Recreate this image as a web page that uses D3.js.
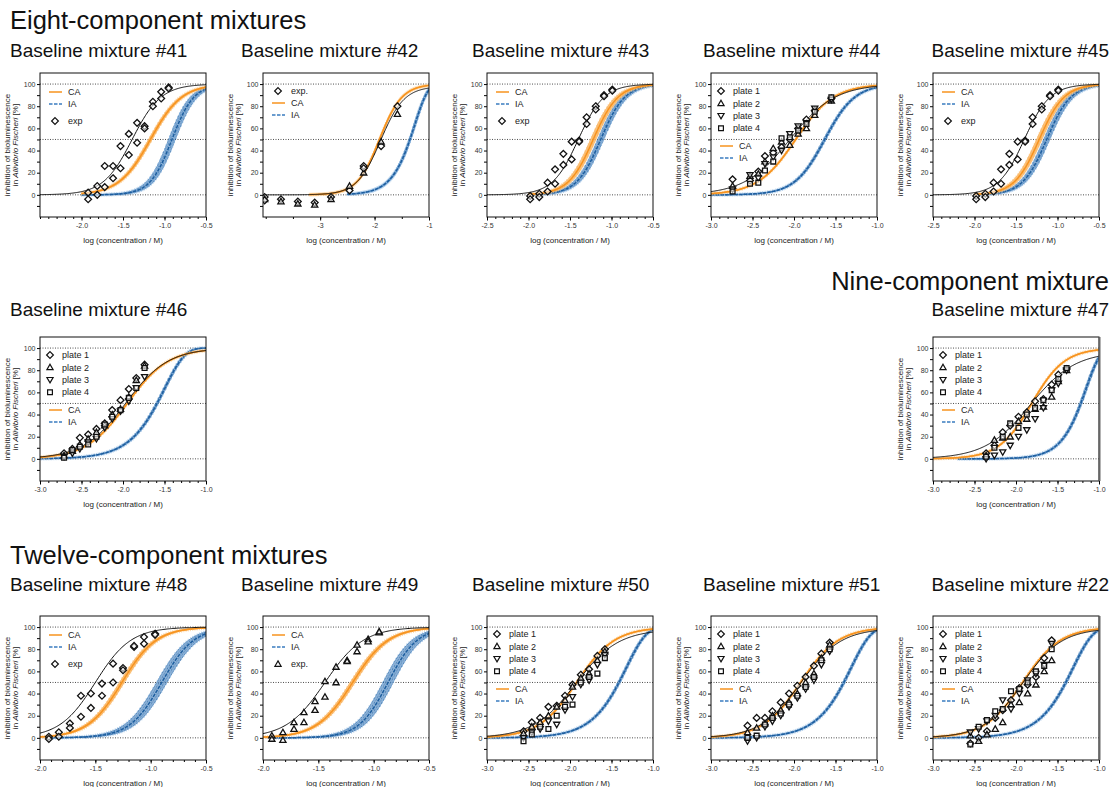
<!DOCTYPE html>
<html>
<head>
<meta charset="utf-8">
<script src="https://cdn.jsdelivr.net/npm/d3@7"></script>
<style>
    body { margin: 0; background: #fff; }
    svg { display: block; font-family: "Liberation Sans", Arial, sans-serif; }
</style>
</head>
<body>
<script>
// ---- data ----
const SECTION_TITLES = ["Eight-component mixtures", "Nine-component mixture", "Twelve-component mixtures"];
const PANEL_IDS = ["#41", "#42", "#43", "#44", "#45", "#46", "#47", "#48", "#49", "#50", "#51", "#22"];

const X_DOMAINS = [
    [-2.5, -0.5], [-4.05, -1], [-2.5, -0.5], [-3, -1], [-2.5, -0.5],
    [-3, -1], [-3, -1],
    [-2, -0.5], [-2, -0.5], [-3, -1], [-3, -1], [-3, -1]
];
const X_TICK_LABELS = [
    [-2, -1.5, -1, -0.5], [-3, -2, -1], [-2.5, -2, -1.5, -1, -0.5], [-3, -2.5, -2, -1.5, -1], [-2.5, -2, -1.5, -1, -0.5],
    [-3, -2.5, -2, -1.5, -1], [-3, -2.5, -2, -1.5, -1],
    [-2, -1.5, -1, -0.5], [-2, -1.5, -1, -0.5], [-3, -2.5, -2, -1.5, -1], [-3, -2.5, -2, -1.5, -1], [-3, -2.5, -2, -1.5, -1]
];
const X_DECIMALS = [1, 0, 1, 1, 1, 1, 1, 1, 1, 1, 1, 1];
const Y_TICK_LABELS = [0, 20, 40, 60, 80, 100];
const Y_REF_LINES = [0, 50, 100];

// predicted curves: [log EC50, slope, first log conc., band half-width, "H" = Hill / "W" = Weibull]
const CA_FITS = [
    [-1.17, 2.3, -2.0, 0.02, "H"], [-1.91, 2.1, -3.2, 0.01, "H"], [-1.22, 2.9, -2.0, 0.03, "H"], [-1.98, 1.9, -3.0, 0.008, "H"], [-1.22, 2.9, -2.0, 0.03, "H"],
    [-1.95, 1.75, -3.0, 0.008, "H"], [-1.81, 2.2, -3.0, 0.008, "H"],
    [-1.26, 2.8, -2.0, 0.02, "H"], [-1.19, 2.7, -2.0, 0.02, "H"], [-1.92, 1.9, -3.0, 0.008, "H"], [-1.92, 1.9, -3.0, 0.008, "H"], [-1.92, 1.9, -3.0, 0.008, "H"]
];
const IA_FITS = [
    [-0.91, 3.3, -2.0, 0.04, "H"], [-1.35, 1.8, -2.5, 0.02, "W"], [-1.13, 3.0, -2.0, 0.035, "H"], [-1.63, 2.4, -3.0, 0.015, "H"], [-1.13, 3.0, -2.0, 0.035, "H"],
    [-1.59, 1.77, -3.0, 0.015, "W"], [-1.22, 2.5, -2.7, 0.015, "W"],
    [-0.90, 3.0, -1.9, 0.045, "H"], [-0.87, 3.3, -1.9, 0.045, "H"], [-1.41, 1.8, -3.0, 0.015, "W"], [-1.40, 1.8, -3.0, 0.015, "W"], [-1.40, 1.8, -3.0, 0.015, "W"]
];
// fitted experimental curves: [log EC50, Hill slope, top]
const EXP_FITS = [
    [-1.39, 2.5, 100], [-1.89, 2.0, 98], [-1.40, 2.8, 100], [-2.05, 1.6, 100], [-1.40, 2.8, 100],
    [-1.97, 1.7, 100], [-1.83, 1.6, 97],
    [-1.50, 2.7, 100], [-1.44, 2.5, 100], [-1.93, 1.7, 98], [-1.92, 1.8, 99], [-1.92, 1.85, 99]
];

// single-series measurements [log conc, inhibition %, marker]
const EXP_41 = [[-1.92, 2], [-1.92, -4], [-1.81, 8], [-1.81, 0], [-1.72, 26], [-1.72, 7], [-1.62, 26], [-1.62, 15],
    [-1.53, 44], [-1.53, 24], [-1.43, 55], [-1.43, 36], [-1.33, 65], [-1.33, 47], [-1.24, 62], [-1.24, 60],
    [-1.14, 84], [-1.14, 80], [-1.04, 93], [-1.04, 87], [-0.95, 97], [-0.95, 96]];
const EXP_42 = [[-4.02, -2, 0], [-4.02, -4, 1], [-4.02, -5, 0], [-3.72, -4, 0], [-3.72, -6, 1], [-3.41, -6, 0], [-3.41, -8, 1],
    [-3.1, -7, 0], [-3.1, -9, 1], [-2.8, -2, 0], [-2.8, -4, 1], [-2.46, 4, 0], [-2.46, 8, 1], [-2.2, 26, 0], [-2.2, 20, 1],
    [-2.2, 24, 0], [-1.88, 44, 0], [-1.88, 48, 1], [-1.58, 80, 0], [-1.58, 73, 1]];
const EXP_43 = [[-1.98, -1], [-1.98, -4], [-1.87, 1], [-1.87, -2], [-1.77, 11], [-1.77, 3], [-1.68, 23], [-1.68, 10],
    [-1.58, 37], [-1.58, 27], [-1.48, 48], [-1.48, 32], [-1.39, 49], [-1.39, 48], [-1.30, 70], [-1.30, 64],
    [-1.19, 80], [-1.19, 77], [-1.09, 90], [-1.09, 89], [-0.99, 95], [-0.99, 94]];
const EXP_45 = [[-1.98, -1], [-1.98, -4], [-1.87, 1], [-1.87, -2], [-1.77, 11], [-1.77, 3], [-1.68, 23], [-1.68, 10],
    [-1.58, 37], [-1.58, 27], [-1.48, 48], [-1.48, 32], [-1.39, 49], [-1.39, 48], [-1.30, 70], [-1.30, 64],
    [-1.19, 80], [-1.19, 77], [-1.09, 90], [-1.09, 89], [-0.99, 95], [-0.99, 94]];
const EXP_48 = [[-1.92, 1], [-1.92, -1], [-1.83, 5], [-1.83, 1], [-1.73, 13], [-1.73, 9], [-1.63, 38], [-1.63, 19],
    [-1.54, 40], [-1.54, 27], [-1.44, 49], [-1.44, 38], [-1.34, 67], [-1.34, 50], [-1.25, 63], [-1.25, 61],
    [-1.15, 82], [-1.15, 83], [-1.06, 91], [-1.06, 85], [-0.96, 94], [-0.96, 93]];
const EXP_49 = [[-1.92, 2, 1], [-1.92, -1, 1], [-1.82, 5, 1], [-1.82, -2, 1], [-1.72, 14, 1], [-1.72, 8, 1], [-1.63, 23, 1], [-1.63, 14, 1],
    [-1.53, 33, 1], [-1.53, 25, 1], [-1.44, 51, 1], [-1.44, 37, 1], [-1.34, 64, 1], [-1.34, 50, 1], [-1.24, 70, 1], [-1.24, 69, 1],
    [-1.15, 84, 1], [-1.15, 78, 1], [-1.05, 89, 1], [-1.05, 87, 1], [-0.95, 95, 1], [-0.95, 96, 1]];

// plate measurements: log conc per column, inhibition % for plates 1-4
const PLATE_X_44 = [-2.74, -2.53, -2.43, -2.35, -2.25, -2.15, -2.05, -1.95, -1.85, -1.75, -1.55];
const PLATE_Y_44 = [[14, 8, 5, 3], [13, 17, 18, 10], [21, 19, 15, 11], [35, 30, 28, 22], [38, 42, 34, 30], [43, 48, 40, 51],
    [50, 45, 55, 52], [60, 55, 62, 58], [68, 60, 65, 64], [76, 72, 78, 75], [87, 85, 86, 88]];
const PLATE_X_46 = [-2.71, -2.61, -2.52, -2.42, -2.32, -2.22, -2.13, -2.03, -1.93, -1.84, -1.74];
const PLATE_Y_46 = [[5, 3, 2, 1], [9, 7, 5, 8], [19, 13, 9, 11], [22, 18, 15, 13], [27, 24, 18, 20], [32, 30, 28, 31],
    [44, 40, 36, 38], [53, 45, 43, 44], [63, 56, 52, 55], [73, 71, 64, 64], [85, 84, 74, 82]];
const PLATE_X_47 = [-2.36, -2.26, -2.16, -2.07, -1.97, -1.87, -1.77, -1.67, -1.57, -1.49, -1.39];
const PLATE_Y_47 = [[5, 3, 0, 2], [12, 17, 3, 10], [24, 19, 6, 20], [30, 20, 12, 32], [38, 34, 20, 28], [42, 36, 26, 40],
    [52, 45, 36, 46], [54, 47, 46, 53], [67, 56, 62, 62], [76, 70, 68, 72], [81, 80, 80, 82]];
const PLATE_X_50 = [-2.56, -2.46, -2.36, -2.26, -2.16, -2.06, -1.97, -1.87, -1.77, -1.67, -1.58];
const PLATE_Y_50 = [[6, 4, 0, -3], [14, 10, 5, 3], [18, 14, 8, 10], [28, 20, 15, 8], [29, 28, 12, 20], [38, 34, 25, 28],
    [48, 46, 37, 30], [57, 54, 48, 50], [62, 58, 52, 55], [74, 70, 66, 58], [80, 78, 75, 72]];
const PLATE_X_51 = [-2.56, -2.45, -2.35, -2.26, -2.16, -2.06, -1.96, -1.86, -1.76, -1.67, -1.57];
const PLATE_Y_51 = [[11, 5, -3, 0], [18, 9, 0, 2], [18, 13, 10, 12], [24, 20, 15, 18], [32, 25, 20, 22], [40, 32, 28, 30],
    [47, 40, 36, 38], [55, 50, 44, 46], [65, 58, 52, 55], [76, 72, 66, 70], [86, 84, 78, 80]];
const PLATE_X_22 = [-2.55, -2.45, -2.35, -2.25, -2.16, -2.06, -1.96, -1.86, -1.76, -1.66, -1.57];
const PLATE_Y_22 = [[-5, 2, 5, -6], [0, -3, 8, 10], [6, 3, 15, 16], [18, 8, 20, 24], [25, 14, 34, 26], [34, 30, 26, 42],
    [45, 32, 40, 44], [48, 40, 52, 50], [55, 48, 58, 60], [72, 60, 66, 65], [88, 70, 85, 80]];

const PLATE_LABELS = ["plate 1", "plate 2", "plate 3", "plate 4"];
const EXP_LABELS = ["exp", "exp.", "exp", null, "exp", null, null, "exp", "exp.", null, null, null];
const LEGEND_ORDER = ["models-first", "exp-first", "models-first", "plates", "models-first",
    "plates", "plates", "models-first", "models-first", "plates", "plates", "plates"];

// ---- layout ----
const W = 1114, H = 787;
const PW = 166, PH = 144;
const COL_LEFT = [40, 263, 487, 711, 933];
const ROW_TOP = [73, 337, 616];
const TITLE_X = [10, 241, 472, 703, 1109];
const TITLE_BASE = [57, 316, 591];
const SLOTS = [[0, 0], [1, 0], [2, 0], [3, 0], [4, 0], [0, 1], [4, 1], [0, 2], [1, 2], [2, 2], [3, 2], [4, 2]];
const CA_STYLE = { line: "#F7931E", fill: "#F9A84A", tick: "#FCC987" };
const IA_STYLE = { line: "#1D5E9F", fill: "#2E6CAB", tick: "#8DB7E2" };

function pointsFor(i) {
    const id = PANEL_IDS[i];
    const plates = {
        "#44": [PLATE_X_44, PLATE_Y_44], "#46": [PLATE_X_46, PLATE_Y_46], "#47": [PLATE_X_47, PLATE_Y_47],
        "#50": [PLATE_X_50, PLATE_Y_50], "#51": [PLATE_X_51, PLATE_Y_51], "#22": [PLATE_X_22, PLATE_Y_22]
    };
    if (plates[id]) {
        const [xs, ys] = plates[id];
        return xs.flatMap((lx, c) => ys[c].map((v, p) => [lx, v, p]));
    }
    const single = { "#41": EXP_41, "#42": EXP_42, "#43": EXP_43, "#45": EXP_45, "#48": EXP_48, "#49": EXP_49 }[id];
    return single.map(d => [d[0], d[1], d[2] || 0]);
}

function hill(ec50, slope, top) {
    return lx => top / (1 + Math.pow(10, (ec50 - lx) * slope));
}

function weibull(ec50, slope) {
    return lx => 100 * (1 - Math.exp(-Math.LN2 * Math.pow(10, slope * (lx - ec50))));
}

function modelFn(kind, ec50, slope) {
    return kind === "W" ? weibull(ec50, slope) : hill(ec50, slope, 100);
}

function markerPath(shape) {
    if (shape === 0) return "M0,-3.4L3.4,0L0,3.4L-3.4,0Z";
    if (shape === 1) return "M0,-3.1L3.1,2.3L-3.1,2.3Z";
    if (shape === 2) return "M0,3.1L3.1,-2.3L-3.1,-2.3Z";
    return "M-2.4,-2.4H2.4V2.4H-2.4Z";
}

const svg = d3.select("body").append("svg")
    .attr("width", W)
    .attr("height", H)
    .attr("viewBox", `0 0 ${W} ${H}`);

// section headings
[[10, 29, "start"], [1109, 290, "end"], [10, 564, "start"]].forEach(([tx, ty, anchor], k) => {
    svg.append("text")
        .attr("x", tx).attr("y", ty)
        .attr("text-anchor", anchor)
        .attr("font-size", 25.5)
        .attr("fill", "#111")
        .text(SECTION_TITLES[k]);
});

function drawModel(layer, x, y, fit, xEnd, style, dashed) {
    const [ec50, slope, start, spread, kind] = fit;
    const xs = d3.range(start, xEnd + 0.0001, 0.01);
    const lo = modelFn(kind, ec50 + spread, slope);
    const mid = modelFn(kind, ec50, slope);
    const hi = modelFn(kind, ec50 - spread, slope);

    layer.append("path")
        .attr("d", d3.area().x(d => x(d)).y0(d => y(lo(d)) + 0.7).y1(d => y(hi(d)) - 0.7)(xs))
        .attr("fill", style.fill)
        .attr("opacity", dashed ? 0.55 : 0.5);

    // replicate lines inside the band
    [-1, -0.5, 0.5, 1].forEach(f => {
        const fn = modelFn(kind, ec50 + f * spread, slope);
        layer.append("path")
            .attr("d", d3.line().x(d => x(d)).y(d => y(fn(d)))(xs))
            .attr("fill", "none")
            .attr("stroke", style.line)
            .attr("stroke-width", 0.6)
            .attr("stroke-dasharray", dashed ? "2.5,1" : null);
    });

    // error bars of the prediction
    layer.selectAll(null)
        .data(d3.range(start, xEnd, 0.02))
        .join("line")
        .attr("x1", d => x(d)).attr("x2", d => x(d))
        .attr("y1", d => y(lo(d)) + 1.8)
        .attr("y2", d => y(hi(d)) - 1.8)
        .attr("stroke", style.tick)
        .attr("stroke-width", 0.7);

    layer.append("path")
        .attr("d", d3.line().x(d => x(d)).y(d => y(mid(d)))(xs))
        .attr("fill", "none")
        .attr("stroke", style.line)
        .attr("stroke-width", 1.5)
        .attr("stroke-dasharray", dashed ? "3.5,1.2" : null);
}

function drawLegend(g, i) {
    const leg = g.append("g").attr("font-size", 9).attr("fill", "#222");
    const order = LEGEND_ORDER[i];

    const lineRow = (ry, label, color, dashed) => {
        leg.append("line")
            .attr("x1", 9).attr("x2", 22).attr("y1", ry).attr("y2", ry)
            .attr("stroke", dashed ? "#3a7cc0" : color)
            .attr("stroke-width", 1.5)
            .attr("stroke-dasharray", dashed ? "3.5,1.5" : null);
        leg.append("text").attr("x", 28).attr("y", ry + 3.2).text(label);
    };
    const markRow = (ry, mx, tx, label, shape) => {
        leg.append("path")
            .attr("transform", `translate(${mx},${ry})`)
            .attr("d", markerPath(shape))
            .attr("fill", "#fff").attr("stroke", "#111").attr("stroke-width", 1.2);
        leg.append("text").attr("x", tx).attr("y", ry + 3.2).text(label);
    };

    const expShape = PANEL_IDS[i] === "#49" ? 1 : 0;
    if (order === "models-first") {
        lineRow(19, "CA", CA_STYLE.line, false);
        lineRow(31, "IA", IA_STYLE.line, true);
        markRow(48, 15, 28, EXP_LABELS[i], expShape);
    } else if (order === "exp-first") {
        markRow(18, 15, 28, EXP_LABELS[i], expShape);
        lineRow(30, "CA", CA_STYLE.line, false);
        lineRow(42, "IA", IA_STYLE.line, true);
    } else {
        PLATE_LABELS.forEach((label, p) => markRow(18 + p * 12.4, 10, 22, label, p));
        lineRow(73, "CA", CA_STYLE.line, false);
        lineRow(85, "IA", IA_STYLE.line, true);
    }
}

PANEL_IDS.forEach((id, i) => {
    const [col, row] = SLOTS[i];
    const fl = COL_LEFT[col], ft = ROW_TOP[row];

    // panel title
    svg.append("text")
        .attr("x", TITLE_X[col]).attr("y", TITLE_BASE[row])
        .attr("text-anchor", col === 4 ? "end" : "start")
        .attr("font-size", 19)
        .attr("fill", "#111")
        .text(`Baseline mixture ${id}`);

    const g = svg.append("g").attr("transform", `translate(${fl},${ft})`);
    const x = d3.scaleLinear().domain(X_DOMAINS[i]).range([0, PW]);
    const y = d3.scaleLinear().domain([-20, 110]).range([PH, 0]);
    const xEnd = X_DOMAINS[i][1];

    g.append("clipPath").attr("id", `clip-${i}`)
        .append("rect").attr("width", PW).attr("height", PH);

    // dotted reference lines
    g.selectAll(".ref")
        .data(Y_REF_LINES)
        .join("line")
        .attr("x1", 0).attr("x2", PW)
        .attr("y1", d => y(d)).attr("y2", d => y(d))
        .attr("stroke", "#222")
        .attr("stroke-width", 0.8)
        .attr("stroke-dasharray", "1,1.5");

    const plot = g.append("g").attr("clip-path", `url(#clip-${i})`);
    drawModel(plot.append("g"), x, y, IA_FITS[i], xEnd, IA_STYLE, true);
    drawModel(plot.append("g"), x, y, CA_FITS[i], xEnd, CA_STYLE, false);

    const [ec50, slope, top] = EXP_FITS[i];
    const expFn = hill(ec50, slope, top);
    plot.append("path")
        .attr("d", d3.line().x(d => x(d)).y(d => y(expFn(d)))(d3.range(X_DOMAINS[i][0], xEnd + 0.0001, 0.01)))
        .attr("fill", "none")
        .attr("stroke", "#111")
        .attr("stroke-width", 1);

    plot.selectAll(".pt")
        .data(pointsFor(i))
        .join("path")
        .attr("transform", d => `translate(${x(d[0])},${y(d[1])})`)
        .attr("d", d => markerPath(d[2]))
        .attr("fill", "#fff")
        .attr("fill-opacity", 0.6)
        .attr("stroke", "#111")
        .attr("stroke-width", 1.3);

    drawLegend(g, i);

    // axes
    const yAxis = g.append("g")
        .call(d3.axisLeft(y)
            .tickValues(d3.range(-10, 101, 10))
            .tickSize(3)
            .tickFormat(v => Y_TICK_LABELS.includes(v) ? String(v) : ""));
    yAxis.select(".domain").remove();
    yAxis.selectAll("text").attr("font-size", 7).attr("fill", "#333").attr("font-family", null).attr("x", -4.5);

    const [d0, d1] = X_DOMAINS[i];
    const minorStep = X_DECIMALS[i] === 0 ? 0.5 : 0.1;
    const minor = d3.range(Math.ceil(d0 / minorStep - 1e-6) * minorStep, d1 + 1e-6, minorStep);
    const xMinor = g.append("g").attr("transform", `translate(0,${PH})`)
        .call(d3.axisBottom(x).tickValues(minor).tickSize(2).tickFormat(""));
    xMinor.select(".domain").remove();

    const xAxis = g.append("g").attr("transform", `translate(0,${PH})`)
        .call(d3.axisBottom(x)
            .tickValues(X_TICK_LABELS[i])
            .tickSize(3.5)
            .tickFormat(v => v.toFixed(X_DECIMALS[i])));
    xAxis.select(".domain").remove();
    xAxis.selectAll("text").attr("font-size", 7).attr("fill", "#333").attr("font-family", null).attr("y", 6);

    g.append("text")
        .attr("x", PW / 2).attr("y", PH + 26)
        .attr("text-anchor", "middle")
        .attr("font-size", 8)
        .attr("fill", "#222")
        .text("log (concentration / M)");

    const yTitle = g.append("g")
        .attr("transform", `translate(-22,${PH / 2}) rotate(-90)`)
        .attr("font-size", 8)
        .attr("fill", "#222")
        .attr("text-anchor", "middle");
    yTitle.append("text").attr("y", -8.5).text("inhibition of bioluminescence");
    const line2 = yTitle.append("text").attr("y", 0);
    line2.append("tspan").text("in ");
    line2.append("tspan").attr("font-style", "italic").text("Aliivibrio Fischeri");
    line2.append("tspan").text(" [%]");

    // frame
    g.append("rect")
        .attr("width", PW).attr("height", PH)
        .attr("fill", "none")
        .attr("stroke", "#111")
        .attr("stroke-width", 1);
    if (id === "#47" || id === "#22") {
        g.append("line")
            .attr("x1", PW + 0.5).attr("x2", PW + 0.5).attr("y1", 0).attr("y2", PH)
            .attr("stroke", "#666").attr("stroke-width", 2);
    }
});
</script>
</body>
</html>
